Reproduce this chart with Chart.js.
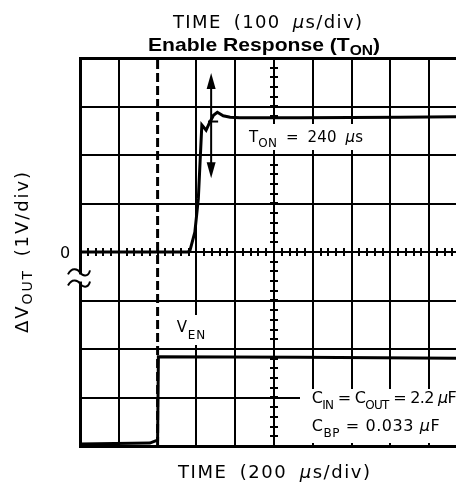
<!DOCTYPE html>
<html><head><meta charset="utf-8">
<style>
html,body{margin:0;padding:0;background:#fff;overflow:hidden;width:456px;height:486px}
#wrap{position:relative;width:480px;height:486px}
canvas{display:block}
</style>
<script src="https://cdn.jsdelivr.net/npm/chart.js@4/dist/chart.umd.min.js"></script>
</head><body><div id="wrap"><canvas id="c" width="480" height="486"></canvas></div>
<script>
// ---- data (units: scope divisions) ----
const xDivisions = [0, 10];          // horizontal range, 10 div
const yDivisions = [-4, 4];          // vertical range, 8 div
const voutX = [0, 2.78, 2.835, 2.96, 3.05, 3.14, 3.25, 3.33, 3.44, 3.54, 3.69, 3.87, 4.12, 5.67, 8.25, 9.69, 10];
const voutY = [0, 0, 0.035, 0.41, 1.10, 2.62, 2.51, 2.65, 2.82, 2.88, 2.81, 2.78, 2.77, 2.77, 2.78, 2.79, 2.79];
const venX = [0, 1.80, 1.93, 2.0, 2.02, 5.67, 9.69, 10];
const venY = [-3.96, -3.94, -3.90, -3.88, -2.16, -2.17, -2.19, -2.19];
const enableX = 2;                   // dashed enable marker
const arrowX = 3.38;
const arrowY = [1.52, 3.69];
const markerX = [3.30, 3.56];
const markerY = 2.69;
const breakY = [-0.42, -0.65];
const minorStep = 0.2;
const labelTopText = 'TIME (100 μs/div)';
const labelBottomText = 'TIME (200 μs/div)';
const tonText = '240';
const cText = '2.2';
const cbpText = '0.033';

const FAM = '"DejaVu Sans", "Liberation Sans", sans-serif';
const BFAM = '"Liberation Sans", Arial, sans-serif';
function font(r){ return (r.italic?'italic ':'') + (r.bold?'bold ':'') + r.size + 'px ' + (r.bold ? BFAM : FAM); }
function drawRuns(ctx, runs, x, y, target, mode, rot, wordExtra){
  ctx.save();
  ctx.translate(x, y);
  if (rot) ctx.rotate(rot);
  ctx.fillStyle = '#000';
  ctx.textBaseline = 'alphabetic';
  ctx.textAlign = 'left';
  wordExtra = wordExtra || 0;
  let nat = 0, n = 0, sp = 0;
  runs.forEach(r => {
    ctx.font = font(r);
    for (const ch of r.t) { nat += ctx.measureText(ch).width; n++; if (ch === ' ') sp++; }
  });
  let ls = 0;
  if (mode === 'scale') ctx.scale(target / nat, 1);
  else ls = (target - nat - sp * wordExtra) / Math.max(1, n - 1);
  let cx = 0;
  runs.forEach(r => {
    ctx.font = font(r);
    for (const ch of r.t) {
      ctx.fillText(ch, cx, r.dy || 0);
      cx += ctx.measureText(ch).width + ls + (ch === ' ' ? wordExtra : 0);
    }
  });
  ctx.restore();
}
function split(str, size){
  const out = [];
  str.split(/(μ)/).forEach(p => { if (p) out.push({t:p, size, italic: p==='μ'}); });
  return out;
}

const deco = {
  id: 'deco',
  beforeDatasetsDraw(chart){
    const ctx = chart.ctx, xs = chart.scales.x, ys = chart.scales.y;
    ctx.save();
    ctx.strokeStyle = '#000'; ctx.lineWidth = 2;
    const cx = xs.getPixelForValue(5), cy = ys.getPixelForValue(0);
    ctx.beginPath();
    for (let v = yDivisions[0]; v <= yDivisions[1] + 1e-9; v += minorStep) {
      const p = Math.round(ys.getPixelForValue(v));
      ctx.moveTo(cx - 4, p); ctx.lineTo(cx + 4, p);
    }
    for (let v = xDivisions[0]; v <= xDivisions[1] + 1e-9; v += minorStep) {
      const p = Math.round(xs.getPixelForValue(v));
      ctx.moveTo(p, cy - 4); ctx.lineTo(p, cy + 4);
    }
    ctx.stroke();
    ctx.fillStyle = '#fff';
    ctx.fillRect(245, 124, 121, 26);
    ctx.fillRect(172, 315, 36, 30);
    ctx.fillRect(300, 389, 180, 54);
    const b0 = ys.getPixelForValue(breakY[0]), b1 = ys.getPixelForValue(breakY[1]);
    ctx.fillRect(xs.left - 4, b0 + 2, 8, b1 - b0 - 4);
    ctx.restore();
  },
  afterDatasetsDraw(chart){
    const ctx = chart.ctx, xs = chart.scales.x, ys = chart.scales.y;
    ctx.save();
    const ax = xs.getPixelForValue(arrowX);
    const a0 = ys.getPixelForValue(arrowY[0]), a1 = ys.getPixelForValue(arrowY[1]);
    ctx.strokeStyle = '#000'; ctx.fillStyle = '#000'; ctx.lineWidth = 2;
    ctx.beginPath(); ctx.moveTo(ax, a1 + 10); ctx.lineTo(ax, a0 - 10); ctx.stroke();
    ctx.beginPath(); ctx.moveTo(ax, a1); ctx.lineTo(ax - 4.5, a1 + 16); ctx.lineTo(ax + 4.5, a1 + 16); ctx.closePath(); ctx.fill();
    ctx.beginPath(); ctx.moveTo(ax, a0); ctx.lineTo(ax - 4.5, a0 - 16); ctx.lineTo(ax + 4.5, a0 - 16); ctx.closePath(); ctx.fill();
    breakY.forEach(bv => {
      const py = ys.getPixelForValue(bv), px = xs.left;
      ctx.beginPath();
      ctx.moveTo(px - 12, py + 2);
      ctx.bezierCurveTo(px - 8, py - 6, px - 2, py - 3, px, py);
      ctx.bezierCurveTo(px + 2, py + 3, px + 8, py + 6, px + 10, py - 2);
      ctx.stroke();
    });
    ctx.restore();
    drawRuns(ctx, split(labelTopText, 18), 173, 27.5, 189, 'spacing', 0, 5);
    drawRuns(ctx, [{t:'Enable Response (T', size:19, bold:true},{t:'ON', size:14, bold:true, dy:4},{t:')', size:19, bold:true}], 148, 51, 232, 'scale');
    drawRuns(ctx, split(labelBottomText, 18), 178, 478, 192, 'spacing', 0, 5);
    drawRuns(ctx, [{t:'ΔV', size:18},{t:'OUT', size:14, dy:4},{t:' (1V/div)', size:18}], 28, 333, 161, 'spacing', -Math.PI/2, 5);
    drawRuns(ctx, [{t:'0', size:16}], 60, 258, 11, 'spacing');
    drawRuns(ctx, [{t:'T', size:15},{t:'ON', size:12, dy:5}].concat(split(' = ' + tonText + ' μs', 15)), 249, 141.7, 114, 'spacing', 0, 4);
    drawRuns(ctx, [{t:'V', size:15},{t:'EN', size:12, dy:7}], 176.7, 331.7, 28.5, 'spacing');
    drawRuns(ctx, [{t:'C', size:16},{t:'IN', size:12, dy:6},{t:' = C', size:16},{t:'OUT', size:12, dy:6}].concat(split(' = ' + cText + ' μF', 16)), 311.7, 403.3, 145, 'spacing', 0, 0);
    drawRuns(ctx, [{t:'C', size:16},{t:'BP', size:12, dy:6}].concat(split(' = ' + cbpText + ' μF', 16)), 311.7, 431.3, 128, 'spacing', 0, 0);
  }
};

const toPts = (xa, ya) => xa.map((x, i) => ({x, y: ya[i]}));
const edge = v => (v === yDivisions[0] || v === yDivisions[1]) ? 3 : 2;

new Chart(document.getElementById('c'), {
  type: 'line',
  data: { datasets: [
    { data: toPts(voutX, voutY), borderColor:'#000', borderWidth:3, pointRadius:0, tension:0 },
    { data: toPts(venX, venY), borderColor:'#000', borderWidth:3, pointRadius:0, tension:0 },
    { data: toPts([enableX, enableX], yDivisions), borderColor:'#000', borderWidth:3, borderDash:[9,4], pointRadius:0 },
    { data: toPts(markerX, [markerY, markerY]), borderColor:'#000', borderWidth:2, pointRadius:0 }
  ]},
  options: {
    responsive:false, animation:false, devicePixelRatio:1,
    layout:{ padding:{ left:80, top:58, right:12, bottom:40 } },
    plugins:{ legend:{display:false}, tooltip:{enabled:false}, title:{display:false} },
    scales:{
      x:{ type:'linear', min:xDivisions[0], max:xDivisions[1],
          ticks:{ display:false, stepSize:1 },
          grid:{ drawTicks:false, lineWidth: c => (c.tick && (c.tick.value===0)) ? 3 : 2,
                 color: c => (c.tick && c.tick.value === enableX) ? 'rgba(0,0,0,0)' : '#000' },
          border:{ color:'#000', width:3 } },
      y:{ type:'linear', min:yDivisions[0], max:yDivisions[1],
          ticks:{ display:false, stepSize:1 },
          grid:{ drawTicks:false, lineWidth: c => c.tick ? edge(c.tick.value) : 2, color:'#000' },
          border:{ color:'#000', width:3 } }
    }
  },
  plugins:[deco]
});
</script>
</body></html>
